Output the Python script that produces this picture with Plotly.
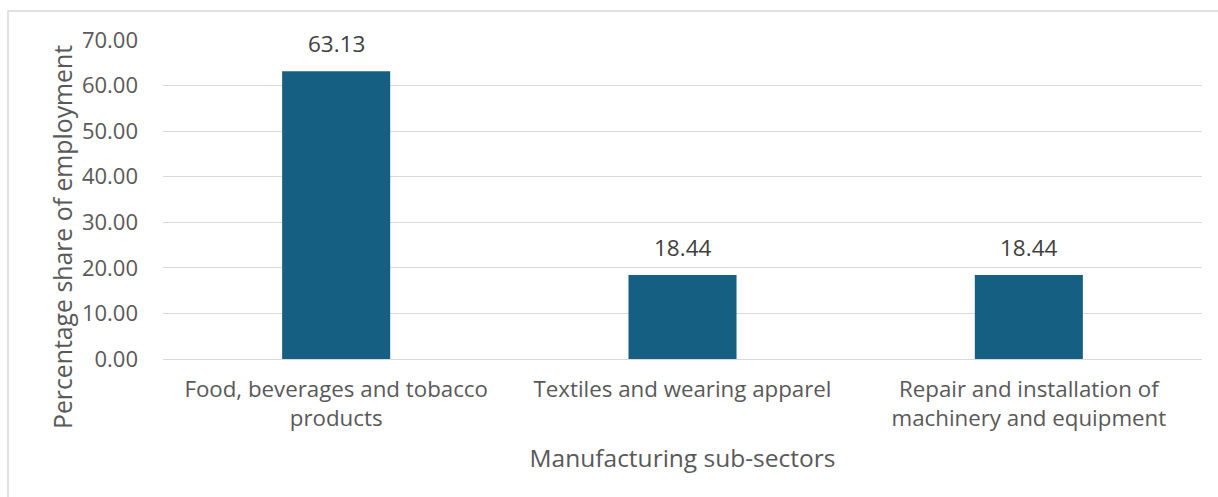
import plotly.graph_objects as go

# Employment share by manufacturing sub-sector
categories = [
    "Food, beverages and tobacco<br>products",
    "Textiles and wearing apparel",
    "Repair and installation of<br>machinery and equipment",
]
shares = [63.13, 18.44, 18.44]
y_ticks = [0, 10, 20, 30, 40, 50, 60, 70]
y_tick_labels = ["%.2f" % v for v in y_ticks]

FONT = "Open Sans"
BAR_COLOR = "#156082"
AXIS_TEXT = "#595959"
LABEL_TEXT = "#404040"

W, H = 1218, 497
L, R, T, B = 163, 16, 40, 138
pw, ph = W - L - R, H - T - B

fig = go.Figure()
fig.add_trace(go.Bar(
    x=categories,
    y=shares,
    marker=dict(color=BAR_COLOR, line=dict(width=0)),
    width=0.312,
    hoverinfo="x+y",
))

# value labels above each bar
for c, v in zip(categories, shares):
    fig.add_annotation(
        x=c, y=v, text="%.2f" % v, showarrow=False,
        yanchor="bottom", yshift=10,
        font=dict(family=FONT, size=22.5, color=LABEL_TEXT),
    )

# y-axis title, centred on the chart frame
fig.add_annotation(
    xref="paper", yref="paper",
    x=(62 - L) / pw, y=1 - (237 - T) / ph,
    text="Percentage share of employment", textangle=-90,
    showarrow=False, xanchor="center", yanchor="middle",
    font=dict(family=FONT, size=24.8, color=AXIS_TEXT),
)

# outer chart frame
fig.add_shape(
    type="rect", xref="paper", yref="paper",
    x0=(8 - L) / pw, x1=(1230 - L) / pw,
    y0=1 - (520 - T) / ph, y1=1 + (T - 11) / ph,
    line=dict(color="#d9d9d9", width=1.5), fillcolor="rgba(0,0,0,0)",
    layer="below",
)

fig.update_layout(
    width=W, height=H,
    margin=dict(l=L, r=R, t=T, b=B),
    paper_bgcolor="white", plot_bgcolor="white",
    showlegend=False,
    bargap=0.688,
    font=dict(family=FONT, color=AXIS_TEXT),
    xaxis=dict(
        title=dict(text="Manufacturing sub-sectors",
                   font=dict(family=FONT, size=24.5, color=AXIS_TEXT),
                   standoff=17),
        tickfont=dict(family=FONT, size=22.3, color=AXIS_TEXT),
        showgrid=False, showline=False, ticks="",
        ticklabelstandoff=15,
    ),
    yaxis=dict(
        range=[0, 70],
        tickvals=y_ticks, ticktext=y_tick_labels,
        tickfont=dict(family=FONT, size=22, color=AXIS_TEXT),
        showgrid=True, gridcolor="#d9d9d9", gridwidth=1.3,
        zeroline=True, zerolinecolor="#d9d9d9", zerolinewidth=1.3,
        showline=False, ticks="",
        ticklabelstandoff=24,
    ),
)

fig.write_html("out.html")
